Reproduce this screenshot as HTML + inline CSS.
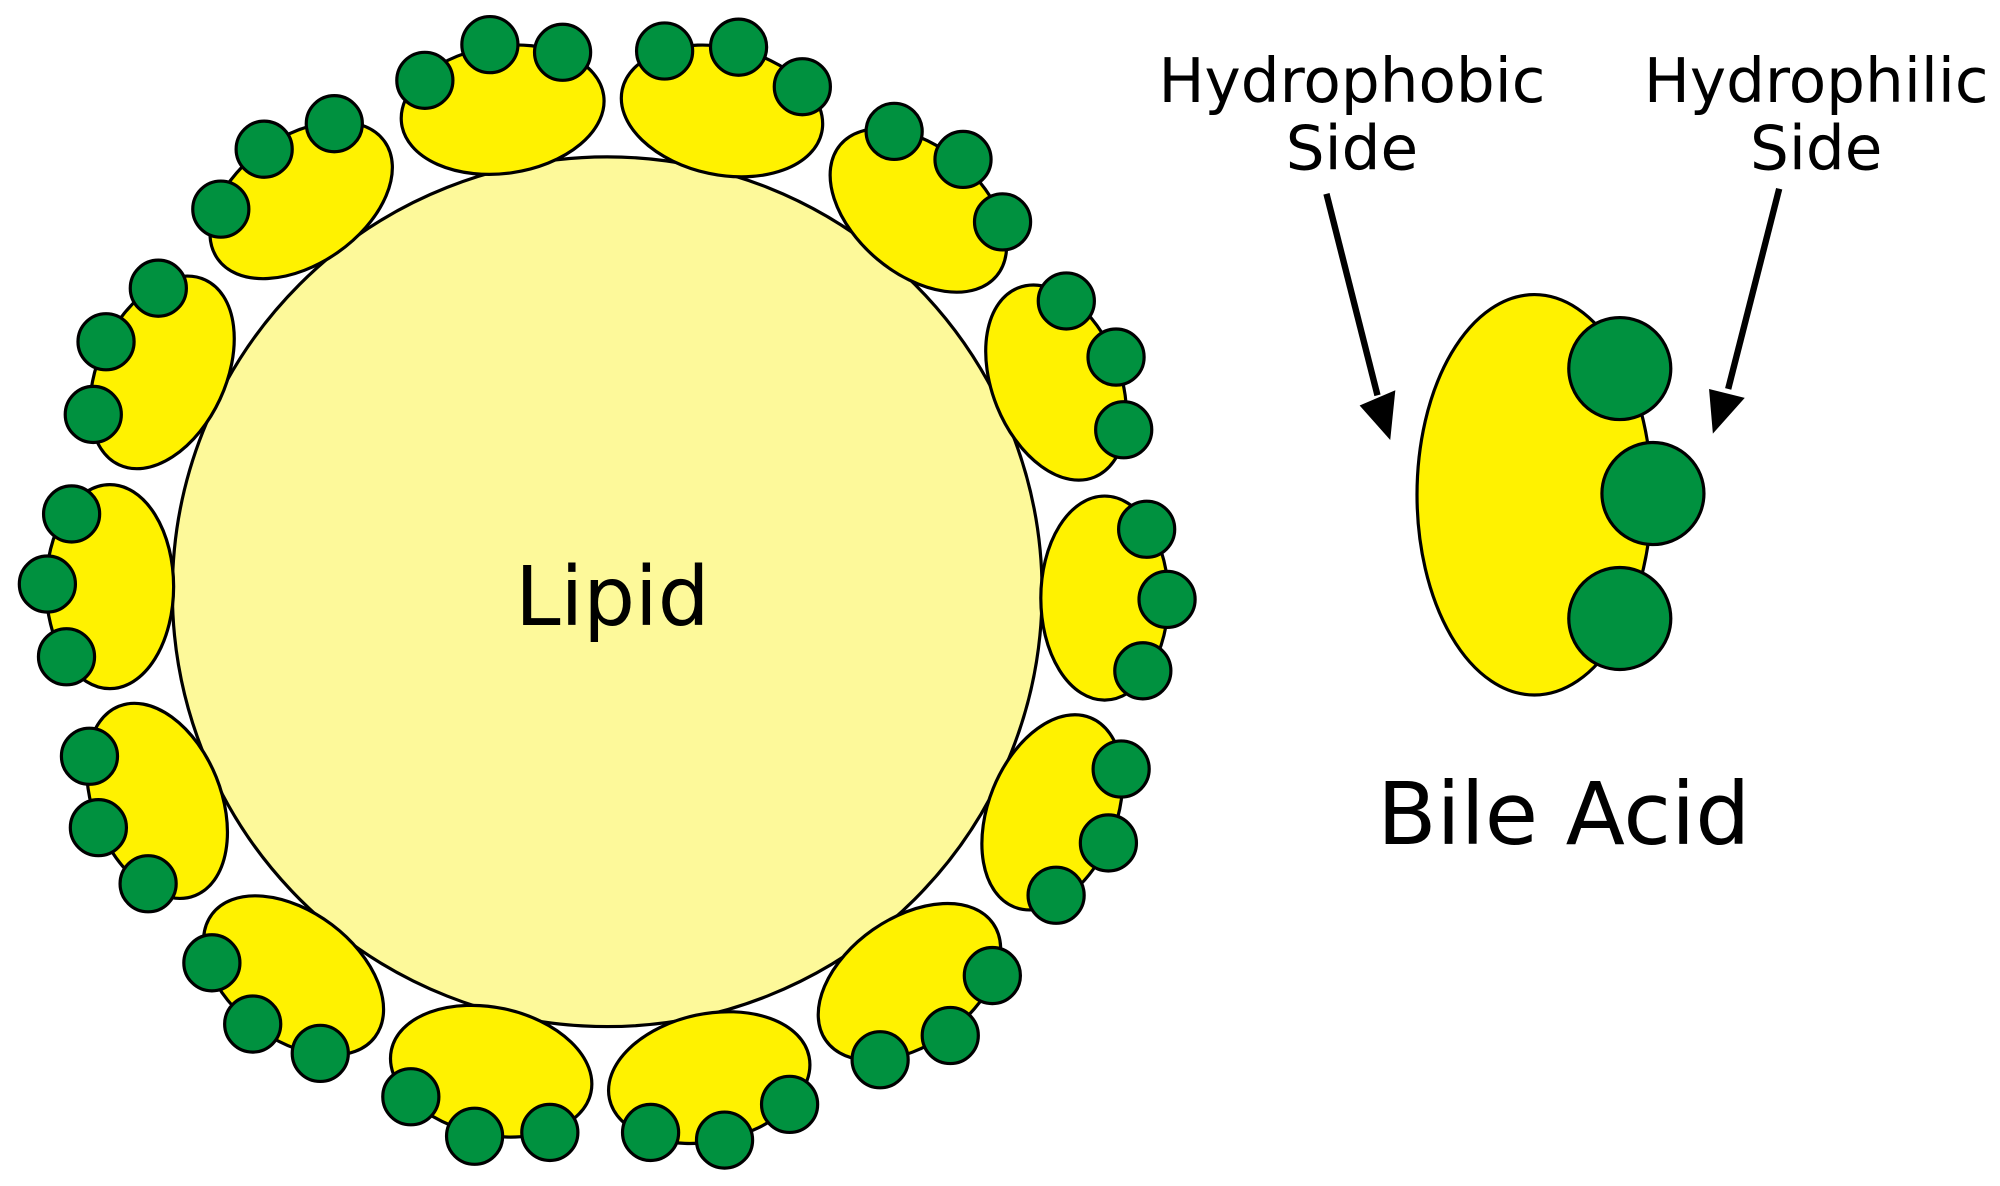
<!DOCTYPE html>
<html><head><meta charset="utf-8"><style>html,body{margin:0;padding:0;background:#fff}svg{display:block}</style></head>
<body>
<svg width="2000" height="1186" viewBox="0 0 1568 930" xmlns="http://www.w3.org/2000/svg">
<rect width="1568" height="930" fill="#fff"/>
<circle cx="476" cy="464" r="341" fill="#FDF99A" stroke="#000" stroke-width="2.5"/>
<g stroke="#000" stroke-width="2.5">
<g fill="#FFF200">
<ellipse cx="394" cy="86" rx="80" ry="50" transform="rotate(-8 394 86)"/>
<ellipse cx="566" cy="87" rx="80" ry="50" transform="rotate(12 566 87)"/>
<ellipse cx="720" cy="165" rx="80" ry="50" transform="rotate(40 720 165)"/>
<ellipse cx="828" cy="300" rx="80" ry="50" transform="rotate(68 828 300)"/>
<ellipse cx="866" cy="469" rx="80" ry="50" transform="rotate(90 866 469)"/>
<ellipse cx="825" cy="637" rx="80" ry="50" transform="rotate(112 825 637)"/>
<ellipse cx="713" cy="770" rx="80" ry="50" transform="rotate(145 713 770)"/>
<ellipse cx="556" cy="845" rx="80" ry="50" transform="rotate(168 556 845)"/>
<ellipse cx="385" cy="840" rx="80" ry="50" transform="rotate(12 385 840)"/>
<ellipse cx="230" cy="765" rx="80" ry="50" transform="rotate(37 230 765)"/>
<ellipse cx="123" cy="628" rx="80" ry="50" transform="rotate(68 123 628)"/>
<ellipse cx="86" cy="460" rx="80" ry="50" transform="rotate(90 86 460)"/>
<ellipse cx="127" cy="292" rx="80" ry="50" transform="rotate(-65 127 292)"/>
<ellipse cx="236" cy="157" rx="80" ry="50" transform="rotate(-35 236 157)"/>
<ellipse cx="1203" cy="388" rx="92" ry="157"/>
</g>
<g fill="#00913F">
<circle cx="333" cy="63" r="22"/><circle cx="384" cy="35" r="22"/><circle cx="441" cy="41" r="22"/>
<circle cx="521" cy="40" r="22"/><circle cx="579" cy="37" r="22"/><circle cx="629" cy="68" r="22"/>
<circle cx="701" cy="103" r="22"/><circle cx="755" cy="125" r="22"/><circle cx="786" cy="174" r="22"/>
<circle cx="836" cy="236" r="22"/><circle cx="875" cy="280" r="22"/><circle cx="881" cy="337" r="22"/>
<circle cx="899" cy="415" r="22"/><circle cx="915" cy="470" r="22"/><circle cx="896" cy="526" r="22"/>
<circle cx="879" cy="603" r="22"/><circle cx="869" cy="661" r="22"/><circle cx="828" cy="702" r="22"/>
<circle cx="778" cy="765" r="22"/><circle cx="745" cy="812" r="22"/><circle cx="690" cy="831" r="22"/>
<circle cx="619" cy="866" r="22"/><circle cx="568" cy="894" r="22"/><circle cx="510" cy="888" r="22"/>
<circle cx="431" cy="888" r="22"/><circle cx="372" cy="891" r="22"/><circle cx="322" cy="860" r="22"/>
<circle cx="251" cy="826" r="22"/><circle cx="198" cy="803" r="22"/><circle cx="166" cy="755" r="22"/>
<circle cx="116" cy="693" r="22"/><circle cx="77" cy="649" r="22"/><circle cx="70" cy="593" r="22"/>
<circle cx="52" cy="515" r="22"/><circle cx="37" cy="458" r="22"/><circle cx="56" cy="403" r="22"/>
<circle cx="73" cy="325" r="22"/><circle cx="83" cy="268" r="22"/><circle cx="124" cy="226" r="22"/>
<circle cx="173" cy="164" r="22"/><circle cx="207" cy="117" r="22"/><circle cx="262" cy="97" r="22"/>
<circle cx="1270" cy="289" r="40"/><circle cx="1296" cy="387" r="40"/><circle cx="1270" cy="485" r="40"/>
</g>
</g>
<g stroke="#000" stroke-width="5" fill="none">
<line x1="1040" y1="152" x2="1080" y2="310"/>
<line x1="1395" y1="148" x2="1355" y2="305"/>
</g>
<polygon points="1090,345 1066,318 1094,306" fill="#000"/>
<polygon points="1343,340 1340,305 1368,312" fill="#000"/>
<g font-family="DejaVu Sans, Liberation Sans, sans-serif" fill="#000" text-anchor="middle">
<text x="1060" y="80" font-size="48">Hydrophobic</text>
<text x="1060" y="133" font-size="48">Side</text>
<text x="1424" y="80" font-size="48">Hydrophilic</text>
<text x="1424" y="133" font-size="48">Side</text>
<text x="480" y="490" font-size="64">Lipid</text>
<text x="1226" y="662" font-size="68">Bile Acid</text>
</g>
</svg>
</body></html>
